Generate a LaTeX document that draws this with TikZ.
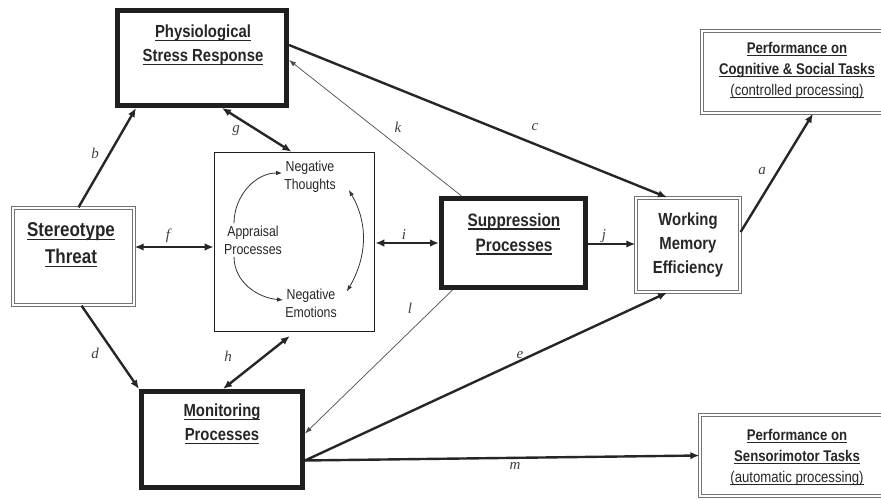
\documentclass[tikz,border=0pt]{standalone}
\usepackage{fontspec}
\setmainfont{Liberation Sans}[FakeStretch=0.85]
\newfontfamily\lblfont{Liberation Serif}
\usepackage{tikz}
\usetikzlibrary{arrows.meta, %for Latex tips
                positioning}

% underline with a heavier rule
\newcommand{\undl}[1]{\setbox0=\hbox{#1}\rlap{\rule[-0.2em]{\wd0}{0.08em}}\box0}

\begin{document}
\begin{tikzpicture}[x=1pt, y=1pt,
                    thickbox/.style={draw=black!88, line width=5pt, inner sep=0},
                    dblbox/.style={draw=black!55, double=white, line width=1.3pt, double distance=1.4pt, inner sep=0},
                    thinbox/.style={draw=black!88, line width=1.6pt, inner sep=0},
                    title/.style={align=center, text=black!85, font=\bfseries\fontsize{17.5}{24}\selectfont},
                    perf/.style={align=center, text=black!85, font=\fontsize{15.5}{21}\selectfont},
                    inner_text/.style={align=center, text=black!85, inner sep=2pt, font=\fontsize{14.5}{18}\selectfont},
                    lbl/.style={text=black!75, inner sep=1pt, font=\lblfont\itshape\fontsize{15}{15}\selectfont},
                    arrow/.style={->, >={Latex[length=9pt,width=7.5pt]}, line width=2.4pt, draw=black!85},
                    darrow/.style={arrow, <->},
                    thinarrow/.style={->, >={Latex[length=7pt,width=5pt]}, line width=0.7pt, draw=black!70},
                    looparrow/.style={->, >={Latex[length=6pt,width=4.5pt]}, line width=0.8pt, draw=black!80}
                    ]
    \useasboundingbox (0,0) rectangle (881,-500);
    \clip (0,0) rectangle (881,-500);

    % boxes
    \node[thickbox, minimum width=169pt, minimum height=95pt] at (202,-58)     (PSR){};
    \node[dblbox,   minimum width=121pt, minimum height=97pt] at (73.5,-256.5) (ST){};
    \node[thinbox,  minimum width=160pt, minimum height=179pt] at (294.5,-242) (APP){};
    \node[thickbox, minimum width=144pt, minimum height=89pt] at (513.5,-243)  (SUP){};
    \node[dblbox,   minimum width=104pt, minimum height=94pt] at (688,-245)    (WM){};
    \node[thickbox, minimum width=161pt, minimum height=96pt] at (222,-439.5)  (MON){};
    \node[dblbox,   minimum width=190pt, minimum height=82pt] at (797,-72)     (PCS){};
    \node[dblbox,   minimum width=194pt, minimum height=81pt] at (797,-455.5)  (PSM){};

    % box texts
    \node[title, font=\bfseries\fontsize{17.5}{24}\selectfont] at (203,-45) (PSRtxt){\undl{Physiological}\\\undl{Stress Response}};
    \node[title, font=\bfseries\fontsize{20}{27}\selectfont] at (71,-245) (STtxt){\undl{Stereotype}\\\undl{Threat}};
    \node[title, font=\bfseries\fontsize{18}{25}\selectfont] at (514,-234) (SUPtxt){\undl{Suppression}\\\undl{Processes}};
    \node[title] at (688,-245) (WMtxt){Working\\Memory\\Efficiency};
    \node[title] at (222,-424) (MONtxt){\undl{Monitoring}\\\undl{Processes}};
    \node[perf] at (797,-70) (PCStxt){\textbf{\undl{Performance on}}\\\textbf{\undl{Cognitive \& Social Tasks}}\\\undl{(controlled processing)}};
    \node[perf] at (797,-457) (PSMtxt){\textbf{\undl{Performance on}}\\\textbf{\undl{Sensorimotor Tasks}}\\\undl{(automatic processing)}};

    % appraisal box contents
    \node[inner_text] at (310,-177) (NT){Negative\\Thoughts};
    \node[inner_text] at (253,-240) (AP){Appraisal\\Processes};
    \node[inner_text] at (311,-303) (NE){Negative\\Emotions};
    \draw[looparrow] ([xshift=-19pt]AP.north) to[out=90, in=180] ([yshift=4pt]NT.west);
    \draw[looparrow] ([xshift=-19pt]AP.south) to[out=-90, in=175] ([yshift=3pt]NE.west);
    \draw[looparrow, <->] ([xshift=11pt, yshift=-13pt]NT.east) to[out=-60, in=60] ([xshift=8pt, yshift=-5pt]NE.north east);

    % paths from stereotype threat
    \draw[arrow]  ([xshift=5pt]ST.north)   -- ([xshift=-66pt]PSR.south);
    \draw[arrow]  ([xshift=8pt]ST.south)   -- (MON.north west);
    \draw[darrow] ([yshift=9.5pt]ST.east)  -- ([yshift=-5pt]APP.west);

    % links of the appraisal box
    \draw[darrow] ([xshift=20pt]PSR.south) -- ([xshift=-3pt]APP.north);
    \draw[darrow, shorten >=6pt] ([xshift=1pt]MON.north) -- (APP.south);
    \draw[darrow] ([yshift=-1pt]APP.east)  -- (SUP.west);

    % suppression paths
    \draw[arrow]     ([yshift=-1pt]SUP.east)   -- ([yshift=1pt]WM.west);
    \draw[thinarrow] ([xshift=-52pt]SUP.north) -- ([yshift=-2pt]PSR.east);
    \draw[thinarrow] ([xshift=-61pt]SUP.south) -- ([yshift=6pt]MON.east);

    % paths to working memory and performance
    \coordinate (MONout) at ([yshift=-21pt]MON.east);
    \draw[arrow] ([yshift=13pt]PSR.east) -- ([xshift=-21pt]WM.north);
    \draw[arrow] (MONout) -- ([xshift=-21pt]WM.south);
    \draw[arrow] (MONout) -- (PSM.west);
    \draw[arrow] ([yshift=13pt]WM.east)  -- ([xshift=16pt]PCS.south);

    % path labels
    \node[lbl] at (95,-153)  (lb){b};
    \node[lbl] at (95,-353)  (ld){d};
    \node[lbl] at (168,-236) (lf){f};
    \node[lbl] at (236,-131) (lg){g};
    \node[lbl] at (228,-356) (lh){h};
    \node[lbl] at (404,-235) (li){i};
    \node[lbl] at (604,-236) (lj){j};
    \node[lbl] at (398,-127) (lk){k};
    \node[lbl] at (535,-127) (lc){c};
    \node[lbl] at (410,-308) (ll){l};
    \node[lbl] at (520,-355) (le){e};
    \node[lbl] at (515,-466) (lm){m};
    \node[lbl] at (762,-171) (la){a};

\end{tikzpicture}
\end{document}
